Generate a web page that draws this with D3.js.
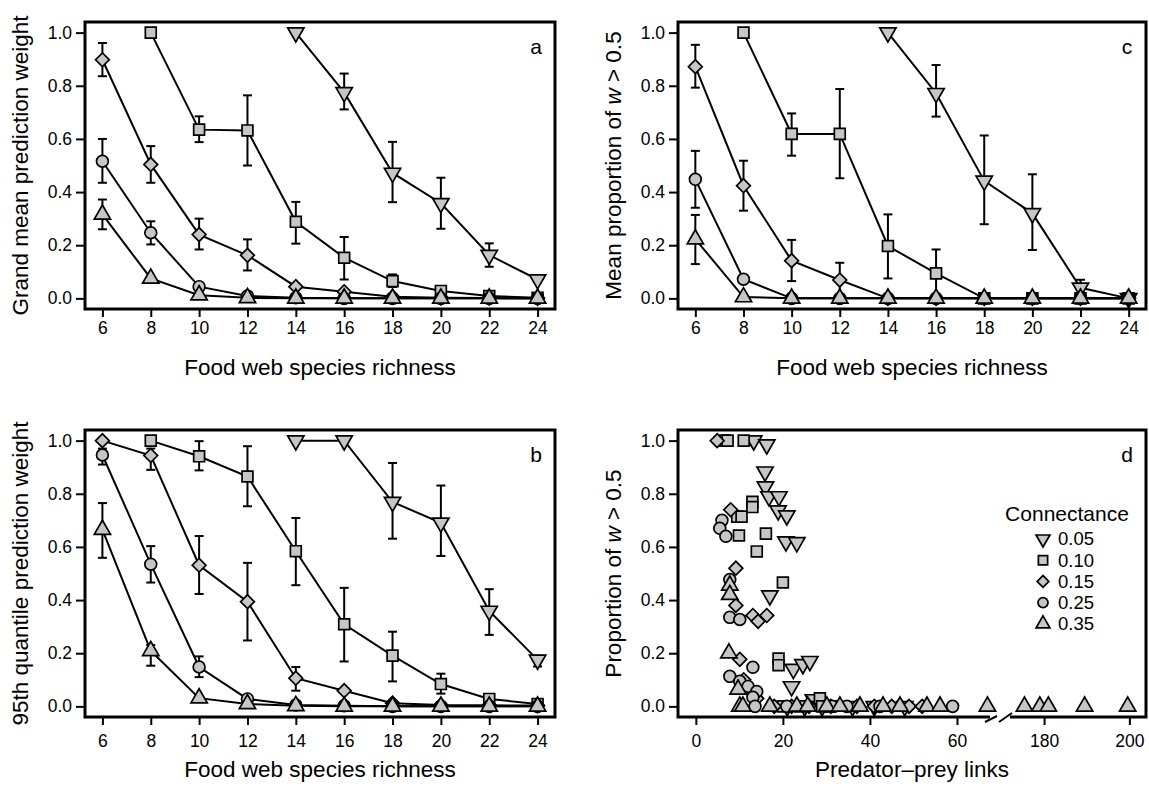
<!DOCTYPE html>
<html>
<head>
<meta charset="utf-8">
<script src="https://cdn.jsdelivr.net/npm/d3@7"></script>
<style>
body { margin: 0; background: #fff; }
svg text { font-family: "Liberation Sans", Arial, Helvetica, sans-serif; fill: #000; }
</style>
</head>
<body>
<svg id="fig" width="1149" height="788"></svg>
<script>
// ---- data ----
var richness = [6, 8, 10, 12, 14, 16, 18, 20, 22, 24];
var connectance = ["0.05", "0.10", "0.15", "0.25", "0.35"];
var shapes = ["down", "square", "diamond", "circle", "up"];
var yTicks = [0, 0.2, 0.4, 0.6, 0.8, 1.0];

// panel a: grand mean prediction weight (null = not present)
var aC05 = [null, null, null, null, 1.0, 0.775, 0.472, 0.358, 0.163, 0.071];
var aC10 = [null, 1.0, 0.635, 0.632, 0.288, 0.153, 0.065, 0.028, 0.009, 0.002];
var aC15 = [0.898, 0.504, 0.24, 0.162, 0.044, 0.025, 0.006, 0.002, 0.001, 0];
var aC25 = [0.516, 0.247, 0.044, 0.009, 0.002, 0, 0, 0, 0, 0];
var aC35 = [0.316, 0.075, 0.012, 0.002, 0, 0, 0, 0, 0, 0];
var aLo = [
  [null, null, null, null, null, 0.711, 0.362, 0.262, 0.119, null],
  [null, null, 0.588, 0.50, 0.206, 0.071, 0.043, null, null, null],
  [0.836, 0.435, 0.184, 0.105, null, null, null, null, null, null],
  [0.435, 0.203, null, null, null, null, null, null, null, null],
  [0.26, null, null, null, null, null, null, null, null, null]];
var aHi = [
  [null, null, null, null, null, 0.846, 0.589, 0.454, 0.207, null],
  [null, null, 0.685, 0.764, 0.363, 0.231, 0.09, null, null, null],
  [0.961, 0.573, 0.30, 0.222, null, null, null, null, null, null],
  [0.60, 0.29, null, null, null, null, null, null, null, null],
  [0.372, null, null, null, null, null, null, null, null, null]];

// panel b: 95th quantile prediction weight
var bC05 = [null, null, null, null, 1.0, 1.0, 0.769, 0.691, 0.359, 0.175];
var bC10 = [null, 1.0, 0.941, 0.865, 0.584, 0.309, 0.191, 0.084, 0.028, 0.009];
var bC15 = [1.0, 0.944, 0.531, 0.394, 0.106, 0.059, 0.012, 0.005, 0.004, 0.003];
var bC25 = [0.946, 0.535, 0.148, 0.028, 0.005, 0.002, 0, 0, 0, 0];
var bC35 = [0.665, 0.209, 0.031, 0.009, 0.002, 0, 0, 0, 0, 0];
var bLo = [
  [null, null, null, null, null, null, 0.631, 0.566, 0.269, 0.15],
  [null, null, 0.888, 0.753, 0.456, 0.169, 0.094, 0.048, null, null],
  [null, 0.89, 0.423, 0.248, 0.059, null, null, null, null, null],
  [0.91, 0.466, 0.11, null, null, null, null, null, null, null],
  [0.559, 0.153, null, null, null, null, null, null, null, null]];
var bHi = [
  [null, null, null, null, null, null, 0.916, 0.831, 0.441, 0.191],
  [null, null, 0.998, 0.979, 0.709, 0.446, 0.281, 0.123, null, null],
  [null, 0.97, 0.641, 0.54, 0.148, null, null, null, null, null],
  [0.97, 0.603, 0.188, null, null, null, null, null, null, null],
  [0.765, 0.231, null, null, null, null, null, null, null, null]];

// panel c: mean proportion of w > 0.5
var cC05 = [null, null, null, null, 1.0, 0.772, 0.442, 0.32, 0.04, 0];
var cC10 = [null, 1.0, 0.619, 0.619, 0.197, 0.094, 0, 0, 0, 0];
var cC15 = [0.872, 0.424, 0.142, 0.069, 0, 0, 0, 0, 0, 0];
var cC25 = [0.448, 0.072, 0, 0, 0, 0, 0, 0, 0, 0];
var cC35 = [0.223, 0.005, 0, 0, 0, 0, 0, 0, 0, 0];
var cLo = [
  [null, null, null, null, null, 0.684, 0.279, 0.182, 0.01, null],
  [null, null, 0.537, 0.452, 0.075, 0.0, null, null, null, null],
  [0.793, 0.33, 0.065, 0.003, null, null, null, null, null, null],
  [0.341, null, null, null, null, null, null, null, null, null],
  [0.129, null, null, null, null, null, null, null, null, null]];
var cHi = [
  [null, null, null, null, null, 0.878, 0.613, 0.467, 0.07, null],
  [null, null, 0.696, 0.788, 0.316, 0.184, null, null, null, null],
  [0.954, 0.518, 0.22, 0.134, null, null, null, null, null, null],
  [0.555, null, null, null, null, null, null, null, null, null],
  [0.314, null, null, null, null, null, null, null, null, null]];

// panel d: [predator-prey links, proportion of w > 0.5]
var dC05 = [[13.3, 1.0], [16.3, 0.985], [15.9, 0.883], [16, 0.827], [16.8, 0.79], [19.1, 0.79],
  [18.9, 0.737], [20.9, 0.718], [20.7, 0.62], [23.2, 0.617], [17, 0.417], [22.4, 0.14],
  [24.6, 0.158], [26.2, 0.17], [22, 0.075], [21, 0], [27, 0.026], [25, 0], [29, 0], [36, 0], [41, 0], [48, 0]];
var dC10 = [[6.5, 1.0], [7.3, 1.0], [11, 1.0], [13, 0.77], [13, 0.75], [9.5, 0.714], [10.5, 0.714],
  [9.9, 0.643], [16.1, 0.65], [14, 0.583], [20, 0.466], [19, 0.18], [19, 0.155], [28.5, 0.03],
  [20, 0], [24, 0], [29, 0], [31, 0]];
var dC15 = [[4.9, 1.0], [8, 0.74], [9.2, 0.52], [9.2, 0.38], [13.1, 0.342], [16.3, 0.342], [14.3, 0.32],
  [10.1, 0.177], [11, 0.1], [12.5, 0.06], [14, 0.03], [18, 0], [22, 0], [26, 0], [31, 0], [37, 0],
  [41, 0], [45, 0], [49, 0], [52, 0]];
var dC25 = [[6, 0.70], [5.5, 0.67], [6.9, 0.64], [7.8, 0.477], [7.8, 0.335], [10.1, 0.327], [13.1, 0.147],
  [7.8, 0.113], [10.1, 0.094], [12, 0.075], [14, 0.056], [13.1, 0.034], [13.6, 0], [20.9, 0],
  [31.3, 0], [34.7, 0], [42.3, 0], [59, 0]];
var dC35 = [[7.8, 0.455], [7.8, 0.42], [7.6, 0.2], [9.7, 0.064], [10.1, 0], [10.8, 0], [17, 0], [23.2, 0],
  [25.7, 0], [30.1, 0], [33.1, 0], [37.7, 0], [43, 0], [46.9, 0], [53.1, 0], [56.1, 0], [67, 0],
  [175.4, 0], [179, 0], [181, 0], [189.5, 0], [199.6, 0]];
var dTicks = [0, 20, 40, 60, 180, 200];

// ---- drawing ----
var svg = d3.select("#fig");
var fillGrey = "#c6c6c6";
var col = [[85, 555], [678, 1146]];
// top, bottom, tick label padding, x title baseline offset
var row = [[22, 309, 5, 66], [430, 717, 10, 60]];

function symbolPath(shape) {
  if (shape === "square") return d3.symbol(d3.symbolSquare, 118)();
  if (shape === "circle") return d3.symbol(d3.symbolCircle, 110)();
  if (shape === "diamond") return d3.symbol(d3.symbolSquare, 95)();
  return d3.symbol(d3.symbolTriangle, 115)();
}
function symbolRot(shape) {
  return shape === "diamond" ? 45 : (shape === "down" ? 180 : 0);
}

function makeFrame(c, r) {
  var g = svg.append("g");
  var y = d3.scaleLinear().domain([-0.04, 1.04]).range([r[1], r[0]]);
  g.append("g").attr("transform", "translate(" + c[0] + ",0)")
    .call(d3.axisLeft(y).tickValues(yTicks).tickFormat(d3.format(".1f")).tickSize(9).tickPadding(4))
    .call(styleAxis);
  return { g: g, y: y };
}

function styleAxis(sel) {
  sel.select(".domain").remove();
  sel.attr("font-size", null).attr("font-family", null);
  sel.selectAll("line").attr("stroke", "#000").attr("stroke-width", 2);
  sel.selectAll("text").style("font-size", "17.5px");
}

function drawLinePanel(c, r, series, lo, hi, letter, ylabel) {
  var f = makeFrame(c, r);
  var g = f.g, y = f.y;
  var x = d3.scaleLinear().domain([5.28, 24.72]).range([c[0], c[1]]);
  g.append("g").attr("transform", "translate(0," + r[1] + ")")
    .call(d3.axisBottom(x).tickValues(richness).tickSize(8).tickPadding(r[2]))
    .call(styleAxis);

  var line = d3.line().defined(function (d) { return d.v !== null; })
    .x(function (d) { return x(d.s); }).y(function (d) { return y(d.v); });

  series.forEach(function (vals, i) {
    var pts = richness.map(function (s, j) { return { s: s, v: vals[j], lo: lo[i][j], hi: hi[i][j] }; });
    g.append("path").datum(pts).attr("d", line)
      .attr("fill", "none").attr("stroke", "#000").attr("stroke-width", 2);
    var eb = pts.filter(function (d) { return d.lo !== null && d.hi !== null; });
    var eg = g.append("g").attr("stroke", "#000").attr("stroke-width", 2);
    eg.selectAll("line.v").data(eb).enter().append("line")
      .attr("x1", function (d) { return x(d.s); }).attr("x2", function (d) { return x(d.s); })
      .attr("y1", function (d) { return y(d.lo); }).attr("y2", function (d) { return y(d.hi); });
    ["lo", "hi"].forEach(function (k) {
      eg.selectAll("line." + k).data(eb).enter().append("line")
        .attr("x1", function (d) { return x(d.s) - 4.5; }).attr("x2", function (d) { return x(d.s) + 4.5; })
        .attr("y1", function (d) { return y(d[k]); }).attr("y2", function (d) { return y(d[k]); });
    });
  });
  series.forEach(function (vals, i) {
    var pts = richness.map(function (s, j) { return { s: s, v: vals[j] }; })
      .filter(function (d) { return d.v !== null; });
    g.selectAll(null).data(pts).enter().append("path")
      .attr("d", symbolPath(shapes[i]))
      .attr("transform", function (d) {
        return "translate(" + x(d.s) + "," + y(d.v) + ") rotate(" + symbolRot(shapes[i]) + ")";
      })
      .attr("fill", fillGrey).attr("stroke", "#000").attr("stroke-width", 1.7);
  });

  g.append("rect").attr("x", c[0]).attr("y", r[0]).attr("width", c[1] - c[0]).attr("height", r[1] - r[0])
    .attr("fill", "none").attr("stroke", "#000").attr("stroke-width", 3);
  addLabels(g, c, r, letter, ylabel, "Food web species richness");
}

function addLabels(g, c, r, letter, ylabel, xlabel) {
  g.append("text").attr("x", c[1] - 19).attr("y", r[0] + 32).attr("text-anchor", "middle")
    .style("font-size", "21px").text(letter);
  g.append("text").attr("x", (c[0] + c[1]) / 2).attr("y", r[1] + r[3]).attr("text-anchor", "middle")
    .style("font-size", "22.5px").text(xlabel);
  var yl = g.append("text").attr("transform", "translate(" + (c[0] - 57) + "," + ((r[0] + r[1]) / 2) + ") rotate(-90)")
    .attr("text-anchor", "middle").style("font-size", "22.5px");
  ylabel.forEach(function (p) {
    yl.append("tspan").style("font-style", p[1] ? "italic" : "normal").text(p[0]);
  });
}

drawLinePanel(col[0], row[0], [aC05, aC10, aC15, aC25, aC35], aLo, aHi, "a", [["Grand mean prediction weight", false]]);
drawLinePanel(col[0], row[1], [bC05, bC10, bC15, bC25, bC35], bLo, bHi, "b", [["95th quantile prediction weight", false]]);
drawLinePanel(col[1], row[0], [cC05, cC10, cC15, cC25, cC35], cLo, cHi, "c",
  [["Mean proportion of ", false], ["w", true], [" > 0.5", false]]);

// panel d with broken x axis
(function () {
  var c = col[1], r = row[1];
  var f = makeFrame(c, r);
  var g = f.g, y = f.y;
  var x = d3.scaleLinear().domain([-4.1, 70, 170.6, 203.9]).range([c[0], 1000.5, 1004, c[1]]);
  g.append("g").attr("transform", "translate(0," + r[1] + ")")
    .call(d3.axisBottom(x).tickValues(dTicks).tickSize(8).tickPadding(r[2]))
    .call(styleAxis);

  var sets = [dC05, dC10, dC15, dC25, dC35];
  sets.forEach(function (pts, i) {
    g.selectAll(null).data(pts).enter().append("path")
      .attr("d", symbolPath(shapes[i]))
      .attr("transform", function (d) {
        return "translate(" + x(d[0]) + "," + y(d[1]) + ") rotate(" + symbolRot(shapes[i]) + ")";
      })
      .attr("fill", fillGrey).attr("stroke", "#000").attr("stroke-width", 1.7);
  });

  var fr = g.append("g").attr("stroke", "#000").attr("stroke-width", 3).attr("fill", "none");
  fr.append("path").attr("d", "M" + 990 + "," + r[1] + "H" + c[0] + "V" + r[0] + "H" + c[1] + "V" + r[1] + "H" + 1010);
  var br = g.append("g").attr("stroke", "#000").attr("stroke-width", 2);
  br.append("line").attr("x1", 985).attr("y1", r[1] + 5).attr("x2", 997).attr("y2", r[1] - 1);
  br.append("line").attr("x1", 999).attr("y1", r[1] + 5).attr("x2", 1012).attr("y2", r[1] - 4);

  addLabels(g, c, r, "d", [["Proportion of ", false], ["w", true], [" > 0.5", false]], "Predator\u2013prey links");

  // legend
  var lg = g.append("g");
  lg.append("text").attr("x", 1067).attr("y", 521).attr("text-anchor", "middle")
    .style("font-size", "21px").text("Connectance");
  connectance.forEach(function (lab, i) {
    var yy = 539 + i * 21.2;
    lg.append("path").attr("d", symbolPath(shapes[i]))
      .attr("transform", "translate(1043," + yy + ") rotate(" + symbolRot(shapes[i]) + ") scale(0.85)")
      .attr("fill", fillGrey).attr("stroke", "#000").attr("stroke-width", 2);
    lg.append("text").attr("x", 1058).attr("y", yy).attr("dy", "0.35em")
      .style("font-size", "18.5px").text(lab);
  });
})();
</script>
</body>
</html>
